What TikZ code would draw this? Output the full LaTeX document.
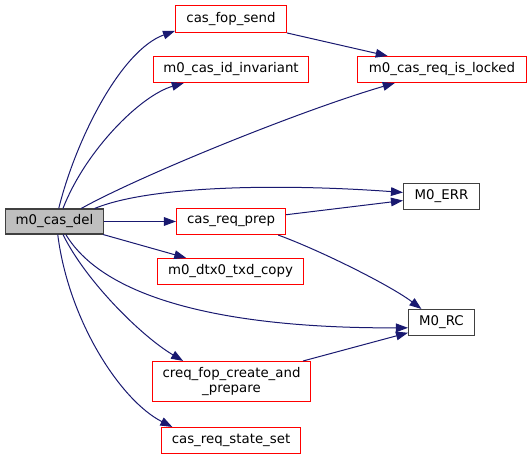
\documentclass[tikz,border=0pt]{standalone}
\usepackage{fontspec}
\setmainfont{DejaVu Sans}
\usetikzlibrary{arrows.meta}
\definecolor{edgeblue}{HTML}{191970}
\definecolor{boxred}{HTML}{FF0000}
\definecolor{boxgray}{HTML}{404040}
\definecolor{fillgray}{HTML}{BFBFBF}
\tikzset{
  fnbox/.style={draw=boxred, line width=0.8pt, rectangle, inner sep=0pt, align=center, font=\fontsize{10pt}{11pt}\selectfont},
  plainbox/.style={fnbox, draw=boxgray},
  mainbox/.style={fnbox, draw=boxgray, fill=fillgray},
  e/.style={draw=edgeblue, line width=0.75pt, -{Triangle[length=9pt,width=6.5pt]}},
}
\begin{document}
\begin{tikzpicture}[x=0.75pt,y=-0.75pt]
\useasboundingbox (0,0) rectangle (531,459);
\begin{scope}[shift={(0.5,0.5)}]
\node[mainbox, minimum width=98*0.75pt, minimum height=25*0.75pt] (del) at (54,221) {m0\_cas\_del};
\node[fnbox, minimum width=111*0.75pt, minimum height=27*0.75pt] (fopsend) at (230.5,18.5) {cas\_fop\_send};
\node[fnbox, minimum width=155*0.75pt, minimum height=26*0.75pt] (idinv) at (230.5,69) {m0\_cas\_id\_invariant};
\node[fnbox, minimum width=169*0.75pt, minimum height=26*0.75pt] (locked) at (441.5,69) {m0\_cas\_req\_is\_locked};
\node[plainbox, minimum width=76*0.75pt, minimum height=26*0.75pt] (err) at (441,196) {M0\_ERR};
\node[fnbox, minimum width=109*0.75pt, minimum height=26*0.75pt] (prep) at (230.5,221) {cas\_req\_prep};
\node[fnbox, minimum width=146*0.75pt, minimum height=26*0.75pt] (dtx) at (230,271) {m0\_dtx0\_txd\_copy};
\node[plainbox, minimum width=66*0.75pt, minimum height=26*0.75pt] (rc) at (441,322) {M0\_RC};
\node[fnbox, minimum width=158*0.75pt, minimum height=40*0.75pt] (creq) at (231,381) {creq\_fop\_create\_and\\\_prepare};
\node[fnbox, minimum width=139*0.75pt, minimum height=26*0.75pt] (state) at (230.5,440) {cas\_req\_state\_set};

\draw[e] (del.72) .. controls (75,140) and (120,50) .. (fopsend.192);
\draw[e] (del.57) .. controls (85,150) and (140,95) .. (idinv.196);
\draw[e] (del.26) .. controls (140,175) and (300,110) .. (locked.196);
\draw[e] (del.18) .. controls (150,185) and (280,183) .. (err.174);
\draw[e] (del.east) -- (prep.west);
\draw[e] (del.-15) -- (dtx.163);
\draw[e] (del.-49) .. controls (105,300) and (230,328) .. (rc.189);
\draw[e] (del.-57) .. controls (85,280) and (140,335) .. (creq.157);
\draw[e] (del.-76) .. controls (68,320) and (120,400) .. (state.167);
\draw[e] (fopsend.-14) -- (locked.166);
\draw[e] (prep.7) -- (err.186);
\draw[e] (prep.-16) .. controls (320,250) and (390,285) .. (rc.146);
\draw[e] (creq.16) -- (rc.197);
\end{scope}
\end{tikzpicture}
\end{document}
